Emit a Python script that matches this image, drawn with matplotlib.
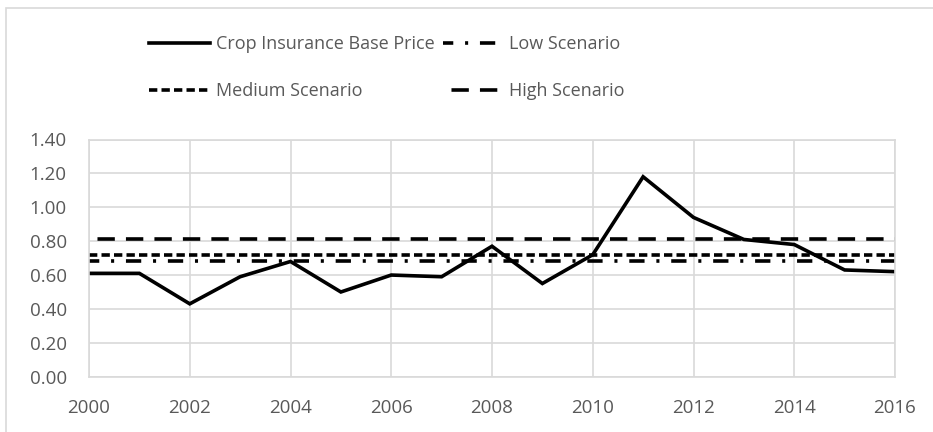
import matplotlib
matplotlib.use("Agg")
import matplotlib.pyplot as plt
from matplotlib.patches import Rectangle

plt.rcParams['font.family'] = ['Open Sans', 'DejaVu Sans']
plt.rcParams['lines.scale_dashes'] = False

years = list(range(2000, 2017))
base_price = [0.61, 0.61, 0.43, 0.59, 0.68, 0.50, 0.60, 0.59, 0.77, 0.55, 0.72,
              1.18, 0.94, 0.81, 0.78, 0.63, 0.62]
low_scenario = [0.68] * len(years)
medium_scenario = [0.72] * len(years)
high_scenario = [0.81] * len(years)
labels = ["Crop Insurance Base Price", "Low Scenario", "Medium Scenario", "High Scenario"]
yticks = [0.0, 0.2, 0.4, 0.6, 0.8, 1.0, 1.2, 1.4]
xticks = list(range(2000, 2017, 2))

fig = plt.figure(figsize=(9.33, 4.32), dpi=100)
fig.patches.append(Rectangle((6/933, -0.1), 2, 1 - 8/432 + 0.1, transform=fig.transFigure,
                             fill=False, edgecolor='#d9d9d9', linewidth=1.2))
ax = fig.add_axes([89/933, (432-376.7)/432, 806/933, 237.2/432])

grid_c = '#d9d9d9'
text_c = '#595959'
lw = 2.6
l_base, = ax.plot(years, base_price, color='black', lw=lw, solid_joinstyle='miter', label=labels[0])
l_low, = ax.plot(years, low_scenario, color='black', lw=lw,
                 linestyle=(3.6, (11, 8.5, 2.2, 8.5)), label=labels[1])
l_med, = ax.plot(years, medium_scenario, color='black', lw=lw,
                 linestyle=(0, (6, 3)), label=labels[2])
l_high, = ax.plot(years, high_scenario, color='black', lw=lw,
                  linestyle=(14.4, (12.5, 8)), label=labels[3])

ax.set_xlim(2000, 2016)
ax.set_ylim(0, 1.4)
ax.set_xticks(xticks)
ax.set_yticks(yticks)
ax.set_yticklabels([f"{v:.2f}" for v in yticks])
ax.grid(True, color=grid_c, linewidth=1.2)
ax.set_axisbelow(True)
for s in ax.spines.values():
    s.set_color(grid_c)
    s.set_linewidth(1.2)
ax.tick_params(axis='both', length=0, labelsize=13.5, labelcolor=text_c)
ax.tick_params(axis='y', pad=16)
ax.tick_params(axis='x', pad=16)

leg = ax.legend(handles=[l_base, l_med, l_low, l_high], ncol=2, frameon=False,
                loc='center', bbox_to_anchor=(387/933, (432-67.5)/432),
                bbox_transform=fig.transFigure, fontsize=13, labelcolor=text_c,
                handlelength=3.4, handletextpad=0.3, columnspacing=0.45,
                labelspacing=1.62)

fig.savefig("out.png", dpi=100)
